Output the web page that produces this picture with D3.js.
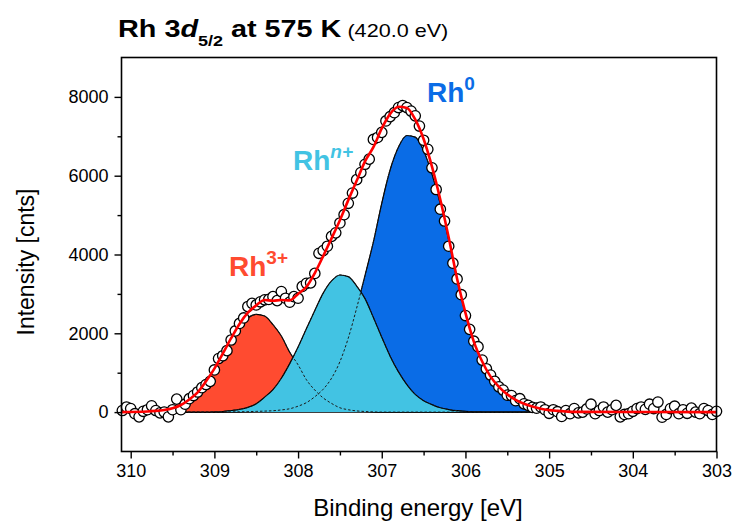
<!DOCTYPE html>
<html>
<head>
<meta charset="utf-8">
<script src="https://cdn.jsdelivr.net/npm/d3@7"></script>
<style>
  body { margin: 0; background: #fff; }
  text { font-family: "Liberation Sans", Arial, sans-serif; }
</style>
</head>
<body>
<div id="chart"></div>
<script>
// measured spectrum (binding energy in eV, intensity in counts)
const dataE = [310.10, 310.05, 310.00, 309.95, 309.90, 309.85, 309.80, 309.75, 309.70, 309.65,
  309.60, 309.55, 309.50, 309.45, 309.40, 309.35, 309.30, 309.25, 309.20, 309.15,
  309.10, 309.05, 309.00, 308.95, 308.90, 308.85, 308.80, 308.75, 308.70, 308.65,
  308.60, 308.55, 308.50, 308.45, 308.40, 308.35, 308.30, 308.25, 308.20, 308.15,
  308.10, 308.05, 308.00, 307.95, 307.90, 307.85, 307.80, 307.75, 307.70, 307.65,
  307.60, 307.55, 307.50, 307.45, 307.40, 307.35, 307.30, 307.25, 307.20, 307.15,
  307.10, 307.05, 307.00, 306.95, 306.90, 306.85, 306.80, 306.75, 306.70, 306.65,
  306.60, 306.55, 306.50, 306.45, 306.40, 306.35, 306.30, 306.25, 306.20, 306.15,
  306.10, 306.05, 306.00, 305.95, 305.90, 305.85, 305.80, 305.75, 305.70, 305.65,
  305.60, 305.55, 305.50, 305.45, 305.40, 305.35, 305.30, 305.25, 305.20, 305.15,
  305.10, 305.05, 305.00, 304.95, 304.90, 304.85, 304.80, 304.75, 304.70, 304.65,
  304.60, 304.55, 304.50, 304.45, 304.40, 304.35, 304.30, 304.25, 304.20, 304.15,
  304.10, 304.05, 304.00, 303.95, 303.90, 303.85, 303.80, 303.75, 303.70, 303.65,
  303.60, 303.55, 303.50, 303.45, 303.40, 303.35, 303.30, 303.25, 303.20, 303.15,
  303.10, 303.05, 303.00]
const dataI = [40, 130, 90, -40, -120, 20, 60, 160, 40, -20,
  0, -120, 60, 330, 60, 200, 340, 420, 510, 620,
  700, 780, 1070, 1360, 1430, 1560, 1830, 2060, 2250, 2390,
  2680, 2760, 2720, 2800, 2850, 2860, 2930, 2830, 3060, 2890,
  2790, 2930, 2890, 3190, 3270, 3280, 3520, 4030, 4100, 4210,
  4460, 4550, 4800, 5010, 5300, 5560, 5900, 6080, 6290, 6420,
  6920, 6970, 7100, 7390, 7500, 7600, 7730, 7780, 7730, 7640,
  7520, 7260, 6900, 6670, 6200, 5650, 5150, 4850, 4210, 3780,
  3380, 2980, 2450, 2100, 1800, 1660, 1320, 1100, 940, 780,
  640, 560, 430, 420, 290, 340, 210, 170, 120, 100,
  130, 60, -30, 60, 10, -110, 40, -40, 90, -20,
  0, 80, 200, -40, 40, 130, 0, 60, 170, -120,
  -60, -40, 20, 90, 130, 70, 200, 90, 255, -130,
  -60, 90, 150, -40, 60, -30, 100, 0, -40, 90,
  40, -60, 20]

// fitted components, sampled every 0.1 eV
const compE = [309.8, 309.7, 309.6, 309.5, 309.4, 309.3, 309.2, 309.1, 309.0, 308.9,
  308.8, 308.7, 308.6, 308.5, 308.4, 308.3, 308.2, 308.1, 308.0, 307.9,
  307.8, 307.7, 307.6, 307.5, 307.4, 307.3, 307.2, 307.1, 307.0, 306.9,
  306.8, 306.7, 306.6, 306.5, 306.4, 306.3, 306.2, 306.1, 306.0, 305.9,
  305.8, 305.7, 305.6, 305.5, 305.4, 305.3, 305.2, 305.1, 305.0, 304.9,
  304.8, 304.7]
const rh3 = [15, 30, 55, 100, 180, 320, 500, 780, 1100, 1470,
  1830, 2160, 2390, 2480, 2440, 2220, 1930, 1520, 1200, 820,
  560, 360, 220, 110, 60, 30, 15, 5, 0, 0,
  0, 0, 0, 0, 0, 0, 0, 0, 0, 0,
  0, 0, 0, 0, 0, 0, 0, 0, 0, 0,
  0, 0]
const rhn = [0, 0, 0, 0, 0, 0, 0, 0, 5, 15,
  40, 70, 120, 210, 380, 570, 860, 1230, 1650, 2120,
  2580, 3020, 3330, 3480, 3440, 3200, 2880, 2400, 1900, 1420,
  1020, 700, 450, 290, 190, 110, 65, 35, 18, 8,
  3, 0, 0, 0, 0, 0, 0, 0, 0, 0,
  0, 0]
const rh0 = [0, 0, 0, 0, 0, 0, 0, 0, 0, 0,
  5, 8, 12, 18, 25, 35, 55, 85, 150, 240,
  390, 580, 860, 1280, 1880, 2640, 3470, 4320, 5300, 6150,
  6730, 7020, 6980, 6640, 6040, 5280, 4365, 3350, 2500, 1780,
  1280, 900, 640, 450, 310, 210, 140, 85, 50, 30,
  15, 5]

const xTicks = [310, 309, 308, 307, 306, 305, 304, 303]
const xMinor = [309.5, 308.5, 307.5, 306.5, 305.5, 304.5, 303.5]
const yTicks = [0, 2000, 4000, 6000, 8000]
const yMinor = [1000, 3000, 5000, 7000]

const width = 734, height = 522
const mLeft = 121.5, mRight = 716.5, mTop = 57.5, mBottom = 451.5

const svg = d3.select('#chart').append('svg')
    .attr('width', width)
    .attr('height', height)

const x = d3.scaleLinear().domain([310.11, 303]).range([mLeft, mRight])
const y = d3.scaleLinear().domain([-1000, 9000]).range([mBottom, mTop])

const envelope = compE.map((e, i) => rh3[i] + rhn[i] + rh0[i])

function pts(vals) { return compE.map((e, i) => [e, vals[i]]) }

const area = d3.area()
    .x(d => x(d[0])).y0(y(0)).y1(d => y(d[1]))
    .curve(d3.curveMonotoneX)
const line = d3.line()
    .x(d => x(d[0])).y(d => y(d[1]))
    .curve(d3.curveMonotoneX)

const plot = svg.append('g')

// zero line
plot.append('line')
    .attr('x1', mLeft).attr('x2', mRight)
    .attr('y1', y(0)).attr('y2', y(0))
    .attr('stroke', '#000').attr('stroke-width', 1.3)

const comps = [
  {vals: rh0, fill: '#0a6ce6'},
  {vals: rh3, fill: '#ff4b30'},
  {vals: rhn, fill: '#42c3e3'}
]
comps.forEach(c => {
    plot.append('path').datum(pts(c.vals))
        .attr('d', area).attr('fill', c.fill)
    plot.append('path').datum(pts(c.vals))
        .attr('d', line).attr('fill', 'none')
        .attr('stroke', '#000').attr('stroke-width', 1.2)
})
// hidden parts of the components show as dotted lines
comps.forEach(c => {
    plot.append('path').datum(pts(c.vals))
        .attr('d', line).attr('fill', 'none')
        .attr('stroke', '#1a1a1a').attr('stroke-width', 1)
        .attr('stroke-dasharray', '2.5,2')
})
plot.append('line')
    .attr('x1', mLeft).attr('x2', x(309.6))
    .attr('y1', y(0)).attr('y2', y(0))
    .attr('stroke', '#000').attr('stroke-width', 1.3)

// data points
plot.selectAll('circle.pt')
    .data(dataE.map((e, i) => [e, dataI[i]]))
    .enter().append('circle')
    .attr('class', 'pt')
    .attr('cx', d => x(d[0]))
    .attr('cy', d => y(d[1]))
    .attr('r', 5.2)
    .attr('fill', '#fff')
    .attr('stroke', '#000')
    .attr('stroke-width', 1.3)

// fit envelope
const envPts = [[310.11, 0]].concat(pts(envelope)).concat([[303, 0]])
plot.append('path').datum(envPts)
    .attr('d', line).attr('fill', 'none')
    .attr('stroke', '#ff0000').attr('stroke-width', 2.6)

// axes
const gx = svg.append('g').attr('transform', 'translate(0,' + mBottom + ')')
gx.call(d3.axisBottom(x).tickValues(xTicks).tickSize(7).tickPadding(6).tickFormat(d3.format('d')))
gx.append('g').call(d3.axisBottom(x).tickValues(xMinor).tickSize(4).tickFormat(''))
gx.selectAll('.domain').remove()
gx.selectAll('line').attr('stroke-width', 1.4)
gx.selectAll('text').attr('font-size', 18).attr('fill', '#000')
    .attr('font-family', '"Liberation Sans", Arial, sans-serif')

const gy = svg.append('g').attr('transform', 'translate(' + mLeft + ',0)')
gy.call(d3.axisLeft(y).tickValues(yTicks).tickSize(7).tickPadding(6).tickFormat(d3.format('d')))
gy.append('g').call(d3.axisLeft(y).tickValues(yMinor).tickSize(4).tickFormat(''))
gy.selectAll('.domain').remove()
gy.selectAll('line').attr('stroke-width', 1.4)
gy.selectAll('text').attr('font-size', 18).attr('fill', '#000')
    .attr('font-family', '"Liberation Sans", Arial, sans-serif')

svg.append('rect')
    .attr('x', mLeft).attr('y', mTop)
    .attr('width', mRight - mLeft).attr('height', mBottom - mTop)
    .attr('fill', 'none').attr('stroke', '#000').attr('stroke-width', 1.6)

// axis titles
svg.append('text')
    .attr('x', 418).attr('y', 516)
    .attr('text-anchor', 'middle').attr('font-size', 24)
    .text('Binding energy [eV]')
svg.append('text')
    .attr('transform', 'translate(34,262) rotate(-90)')
    .attr('text-anchor', 'middle').attr('font-size', 23)
    .text('Intensity [cnts]')

// title (the original lettering is a little wider than Arial)
const title = svg.append('text').attr('transform', 'translate(118,37) scale(1.2,1)')
    .attr('font-size', 24).attr('font-weight', 'bold')
title.append('tspan').text('Rh 3')
title.append('tspan').attr('font-style', 'italic').text('d')
title.append('tspan').attr('font-size', 15).attr('dy', 9).text('5/2')
title.append('tspan').attr('dy', -9).text(' at 575 K')
title.append('tspan').attr('font-weight', 'normal').attr('font-size', 18).text(' (420.0 eV)')

// peak labels
function label(xp, yp, main, sup, color, italicSup) {
    const t = svg.append('text').attr('x', xp).attr('y', yp)
        .attr('font-size', 28).attr('font-weight', 'bold').attr('fill', color)
    t.append('tspan').text(main)
    t.append('tspan').attr('font-size', 19).attr('dy', -12)
        .attr('font-style', italicSup ? 'italic' : 'normal').text(sup)
}
label(427, 102, 'Rh', '0', '#0a6ce6', false)
label(293, 170, 'Rh', 'n+', '#42c3e3', true)
label(229, 276, 'Rh', '3+', '#ff4b30', false)
</script>
</body>
</html>
